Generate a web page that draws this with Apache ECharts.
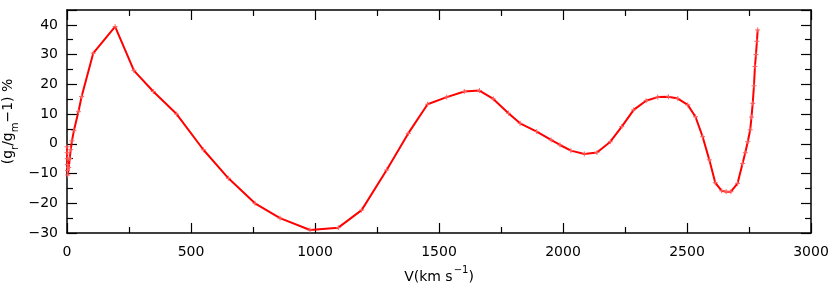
<!DOCTYPE html>
<html>
<head>
<meta charset="utf-8">
<script src="https://cdn.jsdelivr.net/npm/echarts@6/dist/echarts.min.js"></script>
<style>html,body{margin:0;padding:0;background:#fff}#c{width:831px;height:290px}</style>
</head>
<body>
<div id="c"></div>
<script>
var velocity = [0, 0.5, 1, 1.5, 2, 3, 7, 11, 15, 20, 28, 46, 59, 106, 194, 270, 348, 442, 550, 651, 758, 859, 980, 1094, 1188, 1289, 1376, 1454, 1531, 1602, 1663, 1719, 1780, 1827, 1894, 1952, 1988, 2032, 2086, 2137, 2191, 2237, 2285, 2335, 2382, 2425, 2463, 2503, 2534, 2563, 2590, 2614, 2640, 2658, 2677, 2704, 2724, 2735, 2745, 2755, 2760, 2765, 2770, 2774, 2778, 2782, 2785];
var ratioPct = [-1, -3, -5, -7, -9, -10.5, -8, -5, -2, 1, 4.5, 10.8, 15.9, 30.5, 39.4, 24.6, 17.6, 10, -2, -11.6, -20, -25, -29, -28.2, -22.3, -8.8, 3.5, 13.3, 15.7, 17.6, 17.9, 15.1, 10.3, 6.9, 4.1, 1.3, -0.4, -2.3, -3.4, -2.9, 0.7, 5.8, 11.4, 14.5, 15.7, 15.8, 15.2, 13.1, 9.1, 2.4, -5.4, -13.1, -15.8, -16.1, -16.1, -13.3, -6.6, -3, 0.7, 4.7, 9, 13.6, 19.5, 26, 30, 34.5, 38.3];
var xTicks = [0, 500, 1000, 1500, 2000, 2500, 3000];
var yTicks = [-30, -20, -10, 0, 10, 20, 30, 40];

var pts = velocity.map(function (v, i) { return [v, ratioPct[i]]; });
var font = 'DejaVu Sans';
var axisCommon = {
  axisLine: { show: true, onZero: false, lineStyle: { color: '#000', width: 1.5 } },
  axisTick: { show: true, inside: true, length: 10, lineStyle: { color: '#000', width: 1.2 } },
  minorTick: { show: true, splitNumber: 2, length: 6, lineStyle: { color: '#000', width: 1.2 } },
  splitLine: { show: false }
};
function ax(extra) { return Object.assign({}, JSON.parse(JSON.stringify(axisCommon)), extra); }

var chart = echarts.init(document.getElementById('c'), null, { renderer: 'canvas' });
chart.setOption({
  animation: false,
  grid: { left: 67, right: 20, top: 10, bottom: 57, containLabel: false, outerBoundsMode: 'none' },
  xAxis: [
    ax({ type: 'value', position: 'bottom', min: xTicks[0], max: xTicks[xTicks.length - 1], interval: 500,
      axisLabel: { color: '#000', fontFamily: font, fontSize: 14, margin: 12,
        formatter: function (v) { return xTicks.indexOf(v) >= 0 ? String(v) : ''; } },
      name: '{n|V(km s}{sup|−1}{n|)}', nameLocation: 'middle', nameGap: 32, nameMoveOverlap: false,
      nameTextStyle: { color: '#000', fontFamily: font, fontSize: 14,
        rich: {
          n: { fontFamily: font, fontSize: 14, color: '#000', lineHeight: 22, verticalAlign: 'top', padding: [5, 0, 0, 0] },
          sup: { fontFamily: font, fontSize: 10, color: '#000', lineHeight: 22, verticalAlign: 'top', padding: [0, 0, 0, 1] }
        } } }),
    ax({ type: 'value', position: 'top', min: xTicks[0], max: xTicks[xTicks.length - 1], interval: 500,
      axisLabel: { show: false } })
  ],
  yAxis: [
    ax({ type: 'value', position: 'left', min: yTicks[0], max: 45, interval: 10,
      axisLabel: { color: '#000', fontFamily: font, fontSize: 14, margin: 9,
        formatter: function (v) { return yTicks.indexOf(v) >= 0 ? String(v).replace('-', '−') : ''; } },
      name: '{n|(g}{sub|r}{n|/g}{sub|m}{n|−1) %}', nameLocation: 'middle', nameGap: 44, nameRotate: 90, nameMoveOverlap: false,
      nameTextStyle: { color: '#000', fontFamily: font, fontSize: 14,
        rich: {
          n: { fontFamily: font, fontSize: 14, color: '#000', lineHeight: 22, verticalAlign: 'top' },
          sub: { fontFamily: font, fontSize: 10, color: '#000', lineHeight: 22, verticalAlign: 'top', padding: [9, 0, 0, 0] }
        } } }),
    ax({ type: 'value', position: 'right', min: yTicks[0], max: 45, interval: 10,
      axisLabel: { show: false } })
  ],
  series: [{
    type: 'line',
    data: pts,
    xAxisIndex: 0, yAxisIndex: 0,
    lineStyle: { color: '#ff0000', width: 2 },
    symbol: 'path://M0,-1L0,1M-1,0L1,0',
    symbolSize: 5,
    showSymbol: true,
    itemStyle: { color: 'none', borderColor: '#ff6060', borderWidth: 1 },
    clip: false
  }]
});
</script>
</body>
</html>
